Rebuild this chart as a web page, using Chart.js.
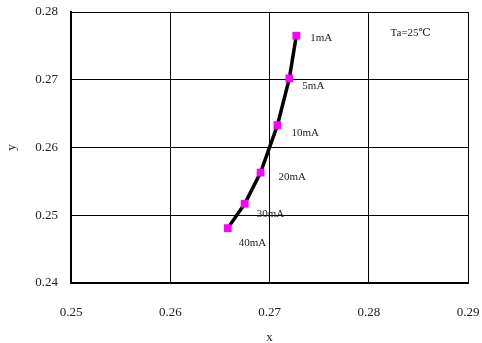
<!DOCTYPE html>
<html>
<head>
<meta charset="utf-8">
<script src="https://cdn.jsdelivr.net/npm/chart.js@4"></script>
<style>
  html, body { margin: 0; padding: 0; background: #fff; }
  #wrap { width: 482px; height: 343px; }
</style>
</head>
<body>
<div id="wrap"><canvas id="chart" width="482" height="343"></canvas></div>
<script>
const currents = ["1mA", "5mA", "10mA", "20mA", "30mA", "40mA"];
const xValues = [0.2727, 0.2720, 0.2708, 0.2691, 0.2675, 0.2658];
const yValues = [0.2765, 0.2702, 0.2633, 0.2563, 0.2517, 0.2481];
const xTicks = [0.25, 0.26, 0.27, 0.28, 0.29];
const yTicks = [0.24, 0.25, 0.26, 0.27, 0.28];
const note = "Ta=25\u2103";

const serif = "'Liberation Serif', 'DejaVu Serif', serif";
const labelOffsets = [[14, 2], [13, 8], [14, 8], [18, 5], [12, 10], [11, 15]];

const pointLabels = {
  id: "pointLabels",
  afterDatasetsDraw(chart) {
    const ctx = chart.ctx;
    const meta = chart.getDatasetMeta(0);
    ctx.save();
    ctx.font = `11px ${serif}`;
    ctx.fillStyle = "#222";
    ctx.textBaseline = "middle";
    ctx.textAlign = "left";
    meta.data.forEach((pt, i) => {
      const [dx, dy] = labelOffsets[i];
      ctx.fillText(currents[i], pt.x + dx, pt.y + dy);
    });
    const area = chart.chartArea;
    ctx.fillText(note, chart.scales.x.getPixelForValue(0.2822), area.top + 21);
    ctx.restore();
  },
};

function noPadding(scale) {
  scale.paddingLeft = 0;
  scale.paddingRight = 0;
  scale.paddingTop = 0;
  scale.paddingBottom = 0;
}

new Chart(document.getElementById("chart"), {
  type: "scatter",
  data: {
    datasets: [
      {
        data: xValues.map((x, i) => ({ x, y: yValues[i] })),
        showLine: true,
        borderColor: "#000",
        borderWidth: 3.5,
        backgroundColor: "#ff00ff",
        pointStyle: "rect",
        pointRadius: 5.5,
        pointBorderWidth: 0,
        pointBackgroundColor: "#ff00ff",
        tension: 0,
      },
    ],
  },
  options: {
    responsive: false,
    animation: false,
    layout: { padding: { top: 12, right: 14, left: 0, bottom: 0 } },
    plugins: { legend: { display: false }, tooltip: { enabled: false } },
    scales: {
      x: {
        type: "linear",
        min: 0.25,
        max: 0.29,
        afterBuildTicks: (scale) => { scale.ticks = xTicks.map((v) => ({ value: v })); },
        afterFit: (scale) => { scale.height = 60; noPadding(scale); },
        grid: { color: "#000", lineWidth: 1, drawTicks: false },
        border: { color: "#000", width: 2 },
        ticks: {
          padding: 22,
          color: "#222",
          font: { family: serif, size: 13 },
          maxRotation: 0,
          callback: (v) => Number(v).toFixed(2),
        },
        title: { display: true, text: "x", color: "#222", font: { family: serif, size: 13, lineHeight: 1 }, padding: { top: 0, bottom: -1 } },
      },
      y: {
        type: "linear",
        min: 0.24,
        max: 0.28,
        afterBuildTicks: (scale) => { scale.ticks = yTicks.map((v) => ({ value: v })); },
        afterFit: (scale) => { scale.width = 71; noPadding(scale); },
        grid: { color: "#000", lineWidth: 1, drawTicks: false },
        border: { color: "#000", width: 2 },
        ticks: {
          padding: 13,
          color: "#222",
          font: { family: serif, size: 13 },
          callback: (v) => Number(v).toFixed(2),
        },
        title: { display: true, text: "y", color: "#222", font: { family: serif, size: 13 }, padding: { top: 4, bottom: 0 } },
      },
    },
  },
  plugins: [pointLabels],
});
</script>
</body>
</html>
